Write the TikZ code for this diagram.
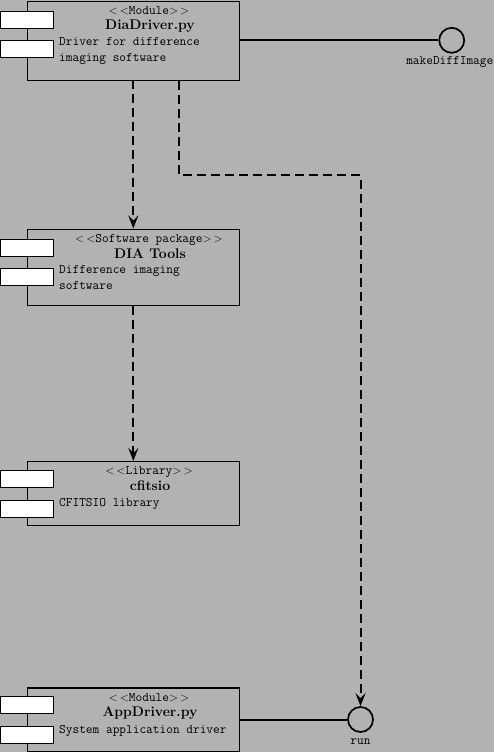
\documentclass[tikz,border=0pt]{standalone}
\usetikzlibrary{arrows.meta}
\definecolor{bg}{gray}{0.7}
\tikzset{
  comp/.style={draw=black, line width=1.4pt, fill=bg, anchor=north west, inner sep=0pt},
  port/.style={draw=black, line width=1.3pt, fill=white, anchor=north west, inner sep=0pt, minimum width=53pt, minimum height=17pt},
  stereo/.style={anchor=base, inner sep=0pt, font=\fontsize{13}{15}\selectfont\ttfamily},
  title/.style={anchor=base, inner sep=0pt, font=\fontsize{14}{16}\selectfont\bfseries},
  desc/.style={anchor=base west, inner sep=0pt, font=\fontsize{13}{16}\selectfont\ttfamily},
  iface/.style={circle, draw=black, line width=1.7pt, minimum size=25pt, inner sep=0pt},
  ilabel/.style={anchor=base, inner sep=0pt, font=\fontsize{13}{15}\selectfont\ttfamily},
  dep/.style={line width=2pt, dash pattern=on 9pt off 5pt, -{Stealth[length=13pt,width=10pt,inset=5pt]}},
  conn/.style={line width=2pt}
}
\begin{document}
\begin{tikzpicture}[x=1pt,y=-1pt]
\useasboundingbox (0,0) rectangle (494,752);
\fill[bg] (0,0) rectangle (494,752);

% DiaDriver
\node[comp, minimum width=212pt, minimum height=79pt] (dia) at (27,1) {};
\node[port] (diap1) at (0,11) {};
\node[port] (diap2) at (0,40) {};
\node[stereo] (diast) at (149,14.5) {$<\,<$Module$>\,>$};
\node[title] (diatt) at (150,30) {DiaDriver.py};
\node[desc] (diad1) at (59,46) {Driver for difference};
\node[desc] (diad2) at (59,62) {imaging software};

% DIA Tools
\node[comp, minimum width=212pt, minimum height=76pt] (tools) at (27,228.5) {};
\node[port] (toolsp1) at (0,238.5) {};
\node[port] (toolsp2) at (0,268) {};
\node[stereo] (toolsst) at (149,242.5) {$<\,<$Software package$>\,>$};
\node[title] (toolstt) at (150,258) {DIA Tools};
\node[desc] (toolsd1) at (59,273.5) {Difference imaging};
\node[desc] (toolsd2) at (59,289) {software};

% cfitsio
\node[comp, minimum width=212pt, minimum height=64pt] (cfit) at (27,461) {};
\node[port] (cfitp1) at (0,470) {};
\node[port] (cfitp2) at (0,499.5) {};
\node[stereo] (cfitst) at (149,474) {$<\,<$Library$>\,>$};
\node[title] (cfittt) at (150,490) {cfitsio};
\node[desc] (cfitd1) at (59,506.5) {CFITSIO library};

% AppDriver
\node[comp, minimum width=212pt, minimum height=64pt] (app) at (27,687.3) {};
\node[port] (appp1) at (0,696) {};
\node[port] (appp2) at (0,725.5) {};
\node[stereo] (appst) at (149,701.5) {$<\,<$Module$>\,>$};
\node[title] (apptt) at (150,716.5) {AppDriver.py};
\node[desc] (appd1) at (59,733) {System application driver};

% interfaces
\node[iface] (mdi) at (451.7,40.3) {};
\node[ilabel, anchor=base east] (mdil) at (493.5,65) {makeDiffImage};
\node[iface] (run) at (360.5,719.5) {};
\node[ilabel] (runl) at (360.5,744.5) {run};

\draw[conn] (dia.east |- mdi) -- (mdi.west);
\draw[conn] (app.east |- run) -- (run.west);

\coordinate (c1) at (178.7,174.7);
\draw[dep] (133.3,80) -- (133.3,228.5);
\draw[dep] (dia.south -| c1) -- (c1) -- (c1 -| run) -- (run.north);
\draw[dep] (tools.south -| 133.3,0) -- (133.3,461);
\end{tikzpicture}
\end{document}
